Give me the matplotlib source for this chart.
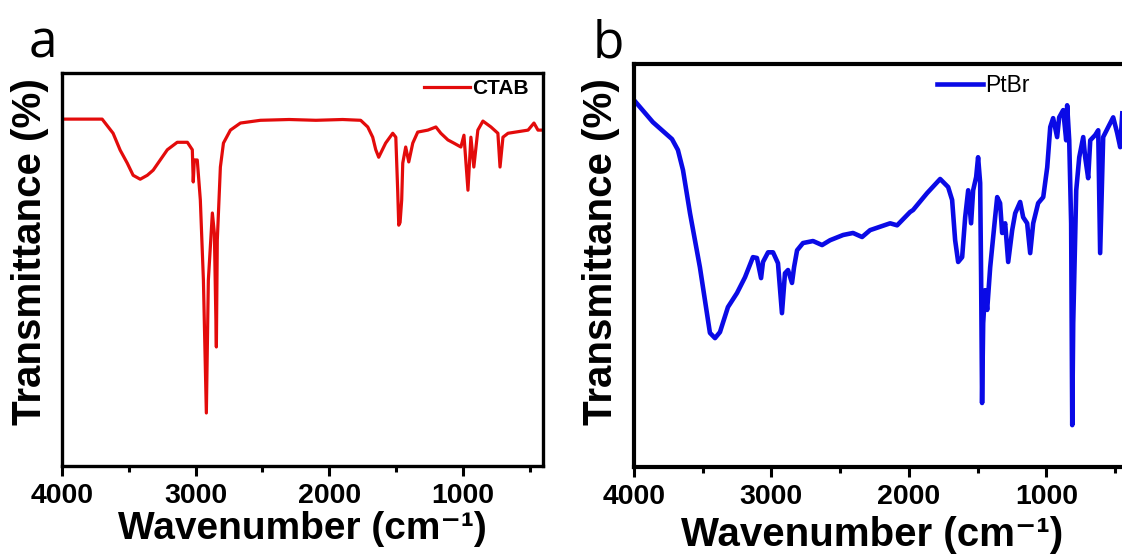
import matplotlib
matplotlib.use('Agg')
import matplotlib.pyplot as plt
from matplotlib.ticker import MultipleLocator

plt.rcParams['font.family'] = ['Liberation Sans', 'DejaVu Sans']

# FTIR spectra (wavenumber in cm-1, transmittance in arbitrary %)
ctab_wn = [4000, 3700, 3618, 3565, 3512, 3468, 3415, 3362, 3318, 3265, 3212, 3138,
           3062, 3025, 3018, 3010, 2988, 2965, 2942, 2920, 2905, 2875, 2860, 2845,
           2838, 2815, 2792, 2740, 2665, 2515, 2300, 2100, 1900, 1765, 1712, 1675,
           1652, 1630, 1578, 1525, 1502, 1488, 1480, 1470, 1458, 1450, 1428, 1405,
           1375, 1338, 1262, 1202, 1165, 1112, 1068, 1015, 992, 962, 940, 918, 888,
           850, 790, 738, 722, 700, 662, 512, 468, 438, 392]
ctab_t = [88.3, 88.3, 84.7, 80.4, 77.1, 74.0, 73.0, 74.0, 75.3, 77.9, 80.5, 82.4,
          82.4, 80.5, 72.3, 77.9, 77.9, 67.7, 47.3, 13.5, 47.3, 64.4, 59.3, 30.3,
          57.5, 76.1, 82.2, 85.5, 87.3, 88.0, 88.2, 88.0, 88.2, 88.0, 86.3, 83.7,
          80.5, 78.6, 82.2, 84.7, 83.7, 70.2, 61.3, 62.0, 67.7, 77.1, 81.2, 77.4,
          82.2, 85.0, 85.5, 86.3, 84.7, 83.0, 82.2, 81.2, 84.2, 70.2, 83.7, 76.1,
          85.5, 87.8, 86.3, 84.7, 76.1, 83.7, 84.7, 85.5, 87.3, 85.5, 85.5]

ptbr_wn = [4000, 3862, 3723, 3680, 3643, 3592, 3520, 3447, 3410, 3374, 3316, 3250,
           3192, 3134, 3105, 3075, 3061, 3024, 2988, 2952, 2923, 2901, 2879, 2850,
           2835, 2813, 2770, 2697, 2631, 2573, 2478, 2406, 2340, 2282, 2136, 2085,
           1991, 1969, 1867, 1772, 1714, 1685, 1663, 1641, 1612, 1590, 1568, 1547,
           1532, 1510, 1496, 1481, 1474, 1467, 1459, 1445, 1430, 1408, 1372, 1357,
           1336, 1321, 1299, 1277, 1248, 1226, 1190, 1168, 1139, 1117, 1095, 1059,
           1022, 993, 971, 950, 921, 906, 877, 855, 848, 833, 819, 811, 804, 782,
           760, 731, 717, 695, 680, 644, 622, 608, 586, 549, 513, 484, 462, 447]
ptbr_t = [91.1, 85.6, 81.4, 78.7, 73.7, 63.0, 49.6, 33.3, 32.0, 33.5, 39.7, 43.2,
          47.1, 52.1, 51.9, 46.9, 50.9, 53.3, 53.3, 50.6, 38.2, 48.1, 48.9, 45.7,
          49.6, 53.8, 55.6, 56.1, 55.1, 56.3, 57.6, 58.1, 57.1, 58.8, 60.5, 60.0,
          63.3, 63.8, 68.0, 71.5, 69.5, 66.3, 56.3, 50.9, 52.1, 62.0, 68.7, 60.5,
          68.7, 72.0, 76.9, 70.5, 47.1, 15.9, 35.7, 43.9, 39.0, 49.6, 62.0, 67.0,
          65.5, 58.1, 60.5, 50.9, 58.8, 63.0, 65.8, 62.0, 60.5, 53.1, 60.5, 65.5,
          67.0, 74.4, 84.4, 86.6, 81.9, 86.8, 88.6, 81.1, 89.8, 81.1, 60.5, 10.4,
          35.7, 68.7, 76.9, 81.9, 76.9, 71.7, 81.1, 82.4, 83.6, 53.1, 81.9, 84.4,
          86.8, 82.9, 79.4, 87.8]

x_major = [4000, 3000, 2000, 1000]

fig = plt.figure(figsize=(11.22, 5.58), dpi=100)
ax_a = fig.add_axes([0.0553, 0.1649, 0.4287, 0.704])
ax_b = fig.add_axes([0.565, 0.163, 0.441, 0.722])


def style_axis(ax, spine_w):
    ax.set_xlim(4000, 400)
    ax.set_ylim(0, 100)
    ax.set_xticks(x_major)
    ax.xaxis.set_minor_locator(MultipleLocator(500))
    ax.set_yticks([])
    ax.tick_params(axis='x', which='major', direction='out', length=7, width=2.2,
                   labelsize=20.5, pad=5)
    ax.tick_params(axis='x', which='minor', direction='out', length=4, width=2.2)
    for lab in ax.get_xticklabels():
        lab.set_fontweight('bold')
    for sp in ax.spines.values():
        sp.set_linewidth(spine_w)


ax_a.plot(ctab_wn, ctab_t, color='#E30B0B', lw=2.3, label='CTAB')
style_axis(ax_a, 2.4)
ax_a.legend(loc='upper left', bbox_to_anchor=(0.752, 0.985), frameon=False,
            handlelength=2.2, handletextpad=0.1, borderpad=0, borderaxespad=0,
            prop={'size': 15, 'weight': 'bold'})

ax_b.plot(ptbr_wn, ptbr_t, color='#0A0AE6', lw=3.3, label='PtBr')
style_axis(ax_b, 3.0)
ax_b.legend(loc='upper left', bbox_to_anchor=(0.612, 0.975), frameon=False,
            handlelength=2.0, handletextpad=0.1, borderpad=0, borderaxespad=0,
            prop={'size': 16.5})

# axis titles
fig.text(30 / 1122, 1 - 252 / 558, 'Transmittance (%)', rotation=90, ha='center',
         va='center', fontsize=29, fontweight='bold')
fig.text(601 / 1122, 1 - 252 / 558, 'Transmittance (%)', rotation=90, ha='center',
         va='center', fontsize=29, fontweight='bold')
fig.text(302 / 1122, 1 - 539 / 558, 'Wavenumber (cm\u207b\u00b9)', ha='center',
         va='baseline', fontsize=28, fontweight='bold')
fig.text(872 / 1122, 1 - 546 / 558, 'Wavenumber (cm\u207b\u00b9)', ha='center',
         va='baseline', fontsize=29, fontweight='bold')

# panel letters
fig.text(29 / 1122, 1 - 57 / 558, 'a', fontsize=37, family='Open Sans')
fig.text(593 / 1122, 1 - 57 / 558, 'b', fontsize=37, family='Open Sans')

fig.savefig('out.png', dpi=100)
